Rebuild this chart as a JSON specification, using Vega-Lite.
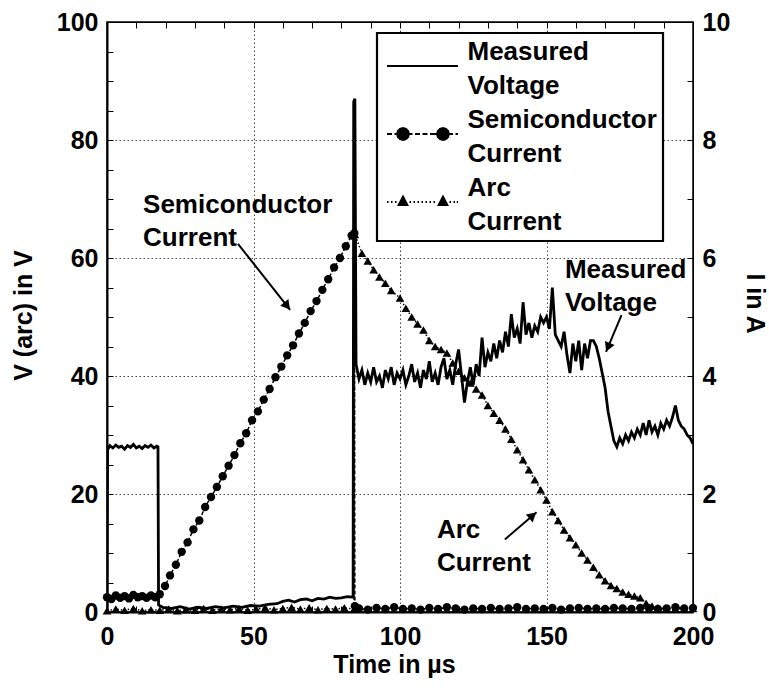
{
  "$schema": "https://vega.github.io/schema/vega-lite/v6.json",
  "width": 586,
  "height": 590,
  "autosize": "none",
  "padding": {"left": 107, "top": 22, "right": 76, "bottom": 76},
  "background": "white",
  "config": {
    "font": "Liberation Sans",
    "view": {"stroke": "black", "strokeWidth": 1.5},
    "axis": {
      "labelFont": "Liberation Sans",
      "labelFontSize": 25,
      "labelFontWeight": "bold",
      "labelColor": "black",
      "titleFont": "Liberation Sans",
      "titleFontSize": 25,
      "titleFontWeight": "bold",
      "titleColor": "black",
      "tickColor": "black",
      "tickWidth": 1,
      "tickSize": -6,
      "domainColor": "black",
      "domainWidth": 1.5,
      "labelPadding": 15,
      "labelOverlap": false,
      "labelFlush": false,
      "gridColor": "#444444",
      "gridDash": [1.5, 2.5],
      "gridWidth": 1
    }
  },
  "datasets": {
    "voltage": [
      {"t": 0, "v": 0}, {"t": 0.2, "v": 27.5}, {"t": 1, "v": 28.2}, {"t": 2, "v": 27.8}, {"t": 3, "v": 28.3}, {"t": 4, "v": 27.9}, {"t": 5, "v": 28.1}, {"t": 6, "v": 27.6}, {"t": 7, "v": 28.2}, {"t": 8, "v": 27.9}, {"t": 9, "v": 28.4}, {"t": 10, "v": 27.8}, {"t": 11, "v": 28.1}, {"t": 12, "v": 27.7}, {"t": 13, "v": 28.2}, {"t": 14, "v": 27.9}, {"t": 15, "v": 28.3}, {"t": 16, "v": 27.8}, {"t": 17, "v": 28.1}, {"t": 17.4, "v": 28},
      {"t": 17.6, "v": 1.2}, {"t": 19, "v": 0.8}, {"t": 22, "v": 0.6}, {"t": 25, "v": 0.9}, {"t": 28, "v": 0.5}, {"t": 31, "v": 0.8}, {"t": 34, "v": 0.6}, {"t": 37, "v": 0.9}, {"t": 40, "v": 0.7}, {"t": 43, "v": 1.0}, {"t": 46, "v": 0.8}, {"t": 49, "v": 1.1}, {"t": 52, "v": 1.0}, {"t": 55, "v": 1.3}, {"t": 58, "v": 1.4}, {"t": 60, "v": 1.8}, {"t": 62, "v": 2.0}, {"t": 64, "v": 1.7}, {"t": 66, "v": 2.1}, {"t": 68, "v": 2.2}, {"t": 70, "v": 1.9}, {"t": 72, "v": 2.3}, {"t": 74, "v": 2.2}, {"t": 76, "v": 2.5}, {"t": 78, "v": 2.3}, {"t": 80, "v": 2.4}, {"t": 82, "v": 2.6}, {"t": 84, "v": 2.5},
      {"t": 84.2, "v": 86.5}, {"t": 84.6, "v": 87}, {"t": 85.0, "v": 42},
      {"t": 86, "v": 39.5}, {"t": 87, "v": 41}, {"t": 88, "v": 38.5}, {"t": 89, "v": 40.5}, {"t": 90, "v": 39}, {"t": 91, "v": 41.5}, {"t": 92, "v": 39}, {"t": 93, "v": 40}, {"t": 94, "v": 38}, {"t": 95, "v": 41}, {"t": 96, "v": 39.5}, {"t": 97, "v": 41.5}, {"t": 98, "v": 38.5}, {"t": 99, "v": 40.5}, {"t": 100, "v": 39.5},
      {"t": 101, "v": 41}, {"t": 102, "v": 38.5}, {"t": 103, "v": 40}, {"t": 104, "v": 42}, {"t": 105, "v": 39}, {"t": 106, "v": 40.5}, {"t": 107, "v": 38}, {"t": 108, "v": 41}, {"t": 109, "v": 39.5}, {"t": 110, "v": 42.5}, {"t": 111, "v": 39}, {"t": 112, "v": 40.5}, {"t": 113, "v": 38.5}, {"t": 114, "v": 41.5}, {"t": 115, "v": 43}, {"t": 116, "v": 39.5}, {"t": 117, "v": 41}, {"t": 118, "v": 38.5}, {"t": 119, "v": 42}, {"t": 120, "v": 44.5},
      {"t": 121, "v": 40}, {"t": 122, "v": 35.5}, {"t": 123, "v": 39}, {"t": 124, "v": 41.5}, {"t": 125, "v": 38.5}, {"t": 126, "v": 42}, {"t": 127, "v": 40}, {"t": 128, "v": 46.5}, {"t": 129, "v": 41.5}, {"t": 130, "v": 44}, {"t": 131, "v": 42.5}, {"t": 132, "v": 45.5}, {"t": 133, "v": 43}, {"t": 134, "v": 46}, {"t": 135, "v": 44}, {"t": 136, "v": 47.5}, {"t": 137, "v": 45}, {"t": 138, "v": 50.5}, {"t": 139, "v": 46.5}, {"t": 140, "v": 48},
      {"t": 141, "v": 45.5}, {"t": 142, "v": 52.5}, {"t": 143, "v": 47}, {"t": 144, "v": 49}, {"t": 145, "v": 46.5}, {"t": 146, "v": 48.5}, {"t": 147, "v": 47.5}, {"t": 148, "v": 50}, {"t": 149, "v": 49}, {"t": 150, "v": 50}, {"t": 151, "v": 48}, {"t": 152, "v": 55}, {"t": 153, "v": 47}, {"t": 154, "v": 46}, {"t": 155, "v": 45}, {"t": 156, "v": 47.5}, {"t": 157, "v": 43.5}, {"t": 158, "v": 40.5}, {"t": 159, "v": 45.5}, {"t": 160, "v": 42.5},
      {"t": 161, "v": 46}, {"t": 162, "v": 41}, {"t": 163, "v": 45.5}, {"t": 164, "v": 43}, {"t": 165, "v": 46}, {"t": 166, "v": 46}, {"t": 167, "v": 45}, {"t": 168, "v": 43}, {"t": 169, "v": 40.5}, {"t": 170, "v": 38}, {"t": 171, "v": 34}, {"t": 172, "v": 31.5}, {"t": 173, "v": 29}, {"t": 174, "v": 28}, {"t": 175, "v": 29.5}, {"t": 176, "v": 28.5}, {"t": 177, "v": 30}, {"t": 178, "v": 29}, {"t": 179, "v": 30.5}, {"t": 180, "v": 29.5},
      {"t": 181, "v": 31}, {"t": 182, "v": 30}, {"t": 183, "v": 32}, {"t": 184, "v": 30}, {"t": 185, "v": 32.5}, {"t": 186, "v": 30.5}, {"t": 187, "v": 31.5}, {"t": 188, "v": 30}, {"t": 189, "v": 32}, {"t": 190, "v": 31}, {"t": 191, "v": 32.5}, {"t": 192, "v": 31.5}, {"t": 193, "v": 33}, {"t": 194, "v": 35}, {"t": 195, "v": 32.5}, {"t": 196, "v": 31.5}, {"t": 197, "v": 31}, {"t": 198, "v": 30}, {"t": 199, "v": 29.5}, {"t": 200, "v": 28.5}
    ],
    "semi": [
      {"t": 0, "i": 0.25}, {"t": 1.5, "i": 0.22}, {"t": 3, "i": 0.28}, {"t": 4.5, "i": 0.24}, {"t": 6, "i": 0.27}, {"t": 7.5, "i": 0.23}, {"t": 9, "i": 0.29}, {"t": 10.5, "i": 0.25}, {"t": 12, "i": 0.27}, {"t": 13.5, "i": 0.24}, {"t": 15, "i": 0.28}, {"t": 16.5, "i": 0.25}, {"t": 18, "i": 0.3}, {"t": 19.8, "i": 0.44},
      {"t": 21.5, "i": 0.62}, {"t": 23.5, "i": 0.8}, {"t": 25.5, "i": 1.02}, {"t": 27.5, "i": 1.18}, {"t": 29.5, "i": 1.4}, {"t": 31.5, "i": 1.55}, {"t": 33.5, "i": 1.78}, {"t": 35.5, "i": 1.95}, {"t": 37.5, "i": 2.12}, {"t": 39.5, "i": 2.3}, {"t": 41.5, "i": 2.48}, {"t": 43.5, "i": 2.66}, {"t": 45.5, "i": 2.86}, {"t": 47.5, "i": 3.03}, {"t": 49.5, "i": 3.25}, {"t": 51.5, "i": 3.4}, {"t": 53.5, "i": 3.6}, {"t": 55.5, "i": 3.78}, {"t": 57.5, "i": 3.98}, {"t": 59.5, "i": 4.16}, {"t": 61.5, "i": 4.35}, {"t": 63.5, "i": 4.52}, {"t": 65.5, "i": 4.72}, {"t": 67.5, "i": 4.9}, {"t": 69.5, "i": 5.1}, {"t": 71.5, "i": 5.27}, {"t": 73.5, "i": 5.46}, {"t": 75.5, "i": 5.64}, {"t": 77.5, "i": 5.84}, {"t": 79.5, "i": 6.0}, {"t": 81.5, "i": 6.2}, {"t": 83.5, "i": 6.38}, {"t": 84.4, "i": 6.42}, {"t": 84.6, "i": 0.1},
      {"t": 86, "i": 0.06}, {"t": 89, "i": 0.04}, {"t": 92, "i": 0.07}, {"t": 95, "i": 0.05}, {"t": 98, "i": 0.08}, {"t": 101, "i": 0.05}, {"t": 104, "i": 0.06}, {"t": 107, "i": 0.04}, {"t": 110, "i": 0.07}, {"t": 113, "i": 0.05}, {"t": 116, "i": 0.08}, {"t": 119, "i": 0.06}, {"t": 122, "i": 0.04}, {"t": 125, "i": 0.06}, {"t": 128, "i": 0.05}, {"t": 131, "i": 0.07}, {"t": 134, "i": 0.05}, {"t": 137, "i": 0.06}, {"t": 140, "i": 0.08}, {"t": 143, "i": 0.05}, {"t": 146, "i": 0.06}, {"t": 149, "i": 0.05}, {"t": 152, "i": 0.07}, {"t": 155, "i": 0.04}, {"t": 158, "i": 0.06}, {"t": 161, "i": 0.07}, {"t": 164, "i": 0.05}, {"t": 167, "i": 0.06}, {"t": 170, "i": 0.05}, {"t": 173, "i": 0.07}, {"t": 176, "i": 0.06}, {"t": 179, "i": 0.05}, {"t": 182, "i": 0.07}, {"t": 185, "i": 0.06}, {"t": 188, "i": 0.05}, {"t": 191, "i": 0.06}, {"t": 194, "i": 0.08}, {"t": 197, "i": 0.06}, {"t": 200, "i": 0.07}
    ],
    "arc": [
      {"t": 0, "i": 0.02}, {"t": 3, "i": 0.05}, {"t": 6, "i": 0.03}, {"t": 9, "i": 0.06}, {"t": 12, "i": 0.02}, {"t": 15, "i": 0.04}, {"t": 18, "i": 0.03}, {"t": 21, "i": 0.05}, {"t": 24, "i": 0.02}, {"t": 27, "i": 0.04}, {"t": 30, "i": 0.03}, {"t": 33, "i": 0.06}, {"t": 36, "i": 0.03}, {"t": 39, "i": 0.05}, {"t": 42, "i": 0.04}, {"t": 45, "i": 0.06}, {"t": 48, "i": 0.03}, {"t": 51, "i": 0.05}, {"t": 54, "i": 0.07}, {"t": 57, "i": 0.04}, {"t": 60, "i": 0.06}, {"t": 63, "i": 0.08}, {"t": 66, "i": 0.05}, {"t": 69, "i": 0.07}, {"t": 72, "i": 0.04}, {"t": 75, "i": 0.06}, {"t": 78, "i": 0.05}, {"t": 81, "i": 0.07}, {"t": 84.3, "i": 0.05},
      {"t": 84.6, "i": 6.4}, {"t": 87, "i": 6.08}, {"t": 89, "i": 5.95}, {"t": 91, "i": 5.8}, {"t": 93, "i": 5.68}, {"t": 95, "i": 5.57}, {"t": 97, "i": 5.45}, {"t": 100, "i": 5.32}, {"t": 102, "i": 5.15}, {"t": 104, "i": 5.0}, {"t": 106, "i": 4.88}, {"t": 108, "i": 4.78}, {"t": 110, "i": 4.6}, {"t": 112, "i": 4.5}, {"t": 114, "i": 4.45}, {"t": 116, "i": 4.39}, {"t": 118, "i": 4.22}, {"t": 120, "i": 4.08}, {"t": 122, "i": 3.97}, {"t": 124, "i": 3.88}, {"t": 126, "i": 3.78}, {"t": 128, "i": 3.68}, {"t": 130, "i": 3.5}, {"t": 132, "i": 3.37}, {"t": 134, "i": 3.25}, {"t": 136, "i": 3.1}, {"t": 138, "i": 2.93}, {"t": 140, "i": 2.75}, {"t": 142, "i": 2.58}, {"t": 144, "i": 2.41}, {"t": 146, "i": 2.24}, {"t": 148, "i": 2.07}, {"t": 150, "i": 1.9}, {"t": 152, "i": 1.7}, {"t": 154, "i": 1.55}, {"t": 156, "i": 1.39}, {"t": 158, "i": 1.26}, {"t": 160, "i": 1.14}, {"t": 162, "i": 1.0}, {"t": 164, "i": 0.88}, {"t": 166, "i": 0.76}, {"t": 168, "i": 0.63}, {"t": 170, "i": 0.53}, {"t": 172, "i": 0.45}, {"t": 174, "i": 0.4}, {"t": 176, "i": 0.34}, {"t": 178, "i": 0.3}, {"t": 180, "i": 0.27}, {"t": 182, "i": 0.24}, {"t": 184, "i": 0.15}, {"t": 186, "i": 0.1}, {"t": 188, "i": 0.07}, {"t": 191, "i": 0.05}, {"t": 194, "i": 0.06}, {"t": 197, "i": 0.05}, {"t": 200, "i": 0.06}
    ],
    "labels": [
      {"t": 12.3, "v": 67.6, "label": "Semiconductor|Current"},
      {"t": 156.3, "v": 56.6, "label": "Measured|Voltage"},
      {"t": 112.6, "v": 12.5, "label": "Arc|Current"}
    ],
    "arrows": [
      {"name": "semi", "t": 44.7, "v": 62.4, "t2": 62.5, "v2": 51.2},
      {"name": "volt", "t": 175.6, "v": 50.3, "t2": 170.3, "v2": 44.1},
      {"name": "arc", "t": 135.8, "v": 12.3, "t2": 146.6, "v2": 16.9}
    ],
    "series": [
      {"series": "Measured Voltage"},
      {"series": "Semiconductor Current"},
      {"series": "Arc Current"}
    ]
  },
  "layer": [
    {
      "encoding": {
        "x": {
          "field": "t", "type": "quantitative",
          "scale": {"domain": [0, 200], "nice": false, "zero": false},
          "axis": {
            "orient": "bottom",
            "values": [0, 10, 20, 30, 40, 50, 60, 70, 80, 90, 100, 110, 120, 130, 140, 150, 160, 170, 180, 190, 200],
            "labelExpr": "datum.value % 50 == 0 ? datum.label : ''",
            "labelPadding": 18,
            "grid": true,
            "gridOpacity": {"condition": {"test": "datum.value % 50 == 0 && datum.value > 0 && datum.value < 200", "value": 1}, "value": 0},
            "title": "Time in µs",
            "titleX": 287, "titleY": 60, "titleAlign": "center", "titleBaseline": "alphabetic",
            "domainWidth": 2
          }
        },
        "y": {
          "field": "v", "type": "quantitative",
          "scale": {"domain": [0, 100], "nice": false, "zero": false},
          "axis": {
            "orient": "left",
            "values": [0, 5, 10, 15, 20, 25, 30, 35, 40, 45, 50, 55, 60, 65, 70, 75, 80, 85, 90, 95, 100],
            "labelExpr": "datum.value % 20 == 0 ? datum.label : ''",
            "grid": true,
            "gridOpacity": {"condition": {"test": "datum.value % 20 == 0 && datum.value > 0 && datum.value < 100", "value": 1}, "value": 0},
            "title": "V (arc) in V",
            "titleAngle": -90, "titleX": -76, "titleY": 293, "titleAlign": "center", "titleBaseline": "alphabetic",
            "domainWidth": 2
          }
        }
      },
      "layer": [
        {
          "data": {"name": "voltage"},
          "mark": {"type": "line", "color": "black", "strokeWidth": 2.8, "strokeJoin": "miter", "clip": true}
        },
        {
          "data": {"name": "labels"},
          "mark": {"type": "text", "align": "left", "baseline": "alphabetic", "lineBreak": "|", "lineHeight": 33, "fontSize": 26, "fontWeight": "bold", "font": "Liberation Sans", "color": "black"},
          "encoding": {"text": {"field": "label"}}
        },
        {
          "data": {"name": "arrows"},
          "mark": {"type": "rule", "color": "black", "strokeWidth": 2},
          "encoding": {"x2": {"field": "t2"}, "y2": {"field": "v2"}}
        },
        {
          "data": {"name": "arrows"},
          "transform": [{"filter": "datum.name == 'semi'"}],
          "mark": {"type": "point", "shape": "triangle-up", "filled": true, "color": "black", "size": 110, "angle": 141.5, "opacity": 1, "xOffset": -3, "yOffset": -4},
          "encoding": {"x": {"field": "t2", "type": "quantitative"}, "y": {"field": "v2", "type": "quantitative"}}
        },
        {
          "data": {"name": "arrows"},
          "transform": [{"filter": "datum.name == 'volt'"}],
          "mark": {"type": "point", "shape": "triangle-up", "filled": true, "color": "black", "size": 110, "angle": 203, "opacity": 1, "xOffset": 2, "yOffset": -4.6},
          "encoding": {"x": {"field": "t2", "type": "quantitative"}, "y": {"field": "v2", "type": "quantitative"}}
        },
        {
          "data": {"name": "arrows"},
          "transform": [{"filter": "datum.name == 'arc'"}],
          "mark": {"type": "point", "shape": "triangle-up", "filled": true, "color": "black", "size": 110, "angle": 49.6, "opacity": 1, "xOffset": -3.8, "yOffset": 3.2},
          "encoding": {"x": {"field": "t2", "type": "quantitative"}, "y": {"field": "v2", "type": "quantitative"}}
        }
      ]
    },
    {
      "encoding": {
        "x": {
          "field": "t", "type": "quantitative",
          "scale": {"domain": [0, 200], "nice": false, "zero": false},
          "axis": {
            "orient": "top",
            "values": [0, 10, 20, 30, 40, 50, 60, 70, 80, 90, 100, 110, 120, 130, 140, 150, 160, 170, 180, 190, 200],
            "labels": false, "grid": false, "title": null, "domainWidth": 1
          }
        },
        "y": {
          "field": "i", "type": "quantitative",
          "scale": {"domain": [0, 10], "nice": false, "zero": false},
          "axis": {
            "orient": "right",
            "values": [0, 0.5, 1, 1.5, 2, 2.5, 3, 3.5, 4, 4.5, 5, 5.5, 6, 6.5, 7, 7.5, 8, 8.5, 9, 9.5, 10],
            "format": "d",
            "labelExpr": "datum.value % 2 == 0 ? datum.label : ''",
            "grid": false,
            "title": "I in A",
            "titleAngle": 90, "titleX": 53, "titleY": 281, "titleAlign": "center", "titleBaseline": "alphabetic",
            "domainWidth": 1
          }
        }
      },
      "layer": [
        {
          "data": {"name": "semi"},
          "mark": {"type": "line", "color": "black", "strokeWidth": 1.5, "strokeDash": [4, 2]}
        },
        {
          "data": {"name": "semi"},
          "mark": {"type": "point", "shape": "circle", "filled": true, "color": "black", "size": 70, "opacity": 1}
        },
        {
          "data": {"name": "arc"},
          "mark": {"type": "line", "color": "black", "strokeWidth": 1.5, "strokeDash": [1.5, 2]}
        },
        {
          "data": {"name": "arc"},
          "mark": {"type": "point", "shape": "triangle-up", "filled": true, "color": "black", "size": 75, "opacity": 1}
        }
      ]
    },
    {
      "data": {"name": "series"},
      "transform": [{"filter": "datum.series == 'none'"}],
      "mark": {"type": "point", "filled": true, "fill": "black", "stroke": "black", "strokeWidth": 1.8, "opacity": 1},
      "encoding": {
        "shape": {
          "field": "series", "type": "nominal",
          "scale": {
            "domain": ["Measured Voltage", "Semiconductor Current", "Arc Current"],
            "range": [
              "M-1.365,0H1.365",
              "M-1.365,0H-1.173M-1.077,0H-0.981M-0.519,0H-0.385M-0.288,0H-0.096M0,0H0.192M0.288,0H0.558M1.019,0H1.173M1.269,0H1.365M-0.52,0L-0.55,0.115L-0.635,0.2L-0.75,0.23L-0.865,0.2L-0.95,0.115L-0.98,0L-0.95,-0.115L-0.865,-0.2L-0.75,-0.23L-0.635,-0.2L-0.55,-0.115ZM1.018,0L0.988,0.115L0.903,0.2L0.788,0.23L0.673,0.2L0.588,0.115L0.558,0L0.588,-0.115L0.673,-0.2L0.788,-0.23L0.903,-0.2L0.988,-0.115Z",
              "M-1.365,0H-1.307M-1.211,0H-1.153M-1.057,0H-0.999M-0.5,0H-0.442M-0.346,0H-0.288M-0.192,0H-0.134M-0.038,0H0.02M0.116,0H0.174M0.27,0H0.328M0.424,0H0.482M1.04,0H1.098M1.194,0H1.252M1.32,0H1.365M-0.75,-0.212L-0.577,0.115L-0.923,0.115ZM0.788,-0.212L0.961,0.115L0.615,0.115Z"
            ]
          },
          "legend": {
            "title": null,
            "orient": "none",
            "legendX": 270,
            "legendY": 11,
            "padding": 6,
            "strokeColor": "black",
            "fillColor": "white",
            "symbolSize": 2704,
            "symbolOffset": 12.5,
            "symbolStrokeWidth": 1.8,
            "symbolStrokeColor": "black",
            "symbolFillColor": "black",
            "symbolOpacity": 1,
            "labelFont": "Liberation Sans",
            "labelFontSize": 26,
            "labelFontWeight": "bold",
            "labelColor": "black",
            "labelOffset": 18,
            "labelLimit": 400,
            "rowPadding": 8,
            "labelExpr": "split(datum.label, ' ')",
            "encoding": {
              "labels": {"lineHeight": {"value": 34}, "dy": {"value": -14}},
              "symbols": {"stroke": {"value": "black"}, "strokeWidth": {"value": 1.8}, "fill": {"value": "black"}},
              "legend": {"strokeWidth": {"value": 2.2}}
            }
          }
        }
      }
    }
  ],
  "resolve": {
    "scale": {"y": "independent"},
    "axis": {"x": "independent", "y": "independent"}
  }
}
